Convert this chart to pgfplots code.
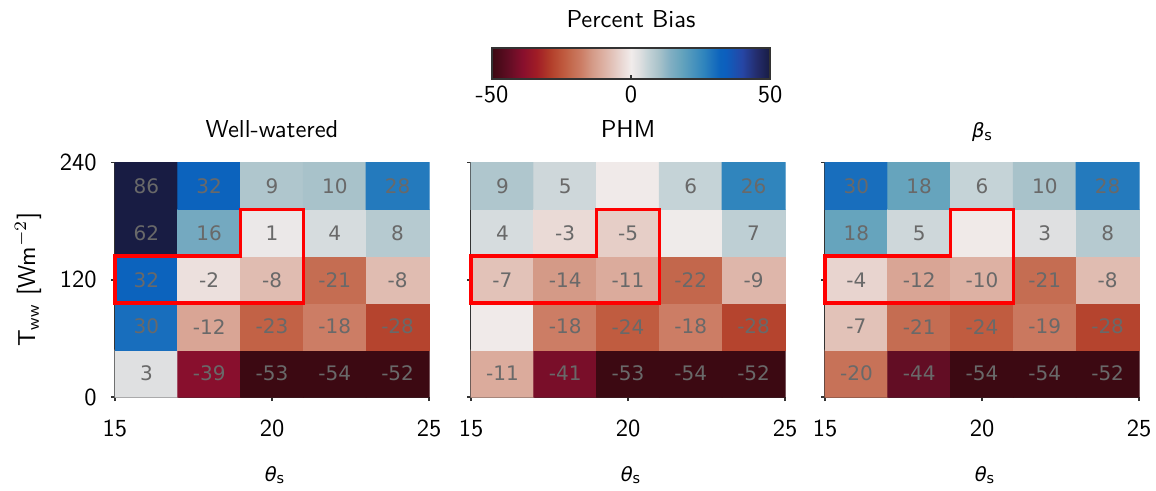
\documentclass[border=0pt]{standalone}
\usepackage{fontspec}
\usepackage{pgfplots}
\usepackage{pgfplotstable}
\pgfplotsset{compat=1.18}

\newfontfamily\cellfont{DejaVu Sans}
\newfontfamily\dvs{DejaVu Sans}
\newcommand\lmsf{\sffamily\fontsize{9.8}{11.8}\selectfont}
% oblique Greek symbol with an upright "s" subscript
\newcommand\symsub[1]{{\dvs\fontsize{7.8}{9}\selectfont\itshape #1}\raisebox{-1.1pt}{\dvs\fontsize{5.8}{6.5}\selectfont s}}
\definecolor{spine}{RGB}{51,51,51}
\definecolor{celltext}{RGB}{105,105,105}

% diverging map: -50 (dark red) ... 0 (off-white) ... +50 (navy)
\pgfplotsset{colormap={balr}{
  rgb255(0pt)=(60,9,18);
  rgb255(6pt)=(98,13,36);
  rgb255(11pt)=(136,15,45);
  rgb255(16pt)=(160,28,38);
  rgb255(21pt)=(178,62,42);
  rgb255(26pt)=(192,92,64);
  rgb255(29pt)=(197,109,82);
  rgb255(32pt)=(204,125,101);
  rgb255(36pt)=(212,154,135);
  rgb255(39pt)=(219,171,156);
  rgb255(42pt)=(224,188,177);
  rgb255(46pt)=(232,212,207);
  rgb255(50pt)=(241,236,235);
  rgb255(53pt)=(223,224,225);
  rgb255(56pt)=(197,211,215);
  rgb255(60pt)=(168,194,202);
  rgb255(64pt)=(130,175,195);
  rgb255(68pt)=(102,164,189);
  rgb255(76pt)=(48,133,189);
  rgb255(82pt)=(12,99,189);
  rgb255(84pt)=(12,95,190);
  rgb255(90pt)=(38,70,165);
  rgb255(95pt)=(36,45,110);
  rgb255(100pt)=(24,28,67);
}}

% percent bias per (theta_s, T_ww) cell; s = 1 when the value is printed
\pgfplotstableread{
x  y   c    s
16 24  3    1
18 24  -39  1
20 24  -53  1
22 24  -54  1
24 24  -52  1
16 72  30   1
18 72  -12  1
20 72  -23  1
22 72  -18  1
24 72  -28  1
16 120 32   1
18 120 -2   1
20 120 -8   1
22 120 -21  1
24 120 -8   1
16 168 62   1
18 168 16   1
20 168 1    1
22 168 4    1
24 168 8    1
16 216 86   1
18 216 32   1
20 216 9    1
22 216 10   1
24 216 28   1
}\wellwatered

\pgfplotstableread{
x  y   c    s
16 24  -11  1
18 24  -41  1
20 24  -53  1
22 24  -54  1
24 24  -52  1
16 72  -0.3 0
18 72  -18  1
20 72  -24  1
22 72  -18  1
24 72  -28  1
16 120 -7   1
18 120 -14  1
20 120 -11  1
22 120 -22  1
24 120 -9   1
16 168 4    1
18 168 -3   1
20 168 -5   1
22 168 0.3  0
24 168 7    1
16 216 9    1
18 216 5    1
20 216 -0.3 0
22 216 6    1
24 216 26   1
}\phm

\pgfplotstableread{
x  y   c    s
16 24  -20  1
18 24  -44  1
20 24  -54  1
22 24  -54  1
24 24  -52  1
16 72  -7   1
18 72  -21  1
20 72  -24  1
22 72  -19  1
24 72  -28  1
16 120 -4   1
18 120 -12  1
20 120 -10  1
22 120 -21  1
24 120 -8   1
16 168 18   1
18 168 5    1
20 168 -0.4 0
22 168 3    1
24 168 8    1
16 216 30   1
18 216 18   1
20 216 6    1
22 216 10   1
24 216 28   1
}\betas

\pgfplotsset{
  every axis title shift=0pt,
  hm/.style={
    scale only axis, width=125.6pt, height=93.8pt,
    anchor=south west,
    xmin=15, xmax=25, ymin=0, ymax=240,
    enlargelimits=false,
    axis lines=left,
    axis line style={-, draw=spine, line width=0.6pt},
    tick style={draw=spine, line width=0.6pt},
    tick align=outside, major tick length=1.6pt,
    xtick={15,20,25}, ytick={0,120,240},
    ticklabel style={font=\lmsf},
    /pgf/number format/assume math mode=true,
    xticklabel style={anchor=base, yshift=-14.2pt},
    yticklabel style={anchor=east, inner sep=0pt, xshift=-5.5pt},
    title style={font=\lmsf, anchor=base, at={(0.5,1)}, yshift=10pt},
    label style={font=\lmsf},
    xlabel={\symsub{θ}},
    xlabel style={at={(axis description cs:0.5,0)}, anchor=base, yshift=-33.6pt, xshift=1pt},
    point meta min=-50, point meta max=50,
    colormap name=balr,
    clip=false,
  },
}

\newcommand\panelplots[1]{%
  \addplot[matrix plot*, mesh/cols=5, point meta=explicit]
    table[x=x, y=y, meta=c] {#1};
  \addplot[only marks, mark=*, mark size=0pt, mark options={draw=none, fill=none},
    point meta=explicit symbolic,
    restrict expr to domain={\thisrow{s}}{0.5:1.5},
    nodes near coords, nodes near coords align=center,
    every node near coord/.append style={font=\cellfont\fontsize{8}{9.6}\selectfont, text=celltext}]
    table[x=x, y=y, meta=c] {#1};
  \addplot[red, line width=1.5pt, line join=miter, forget plot]
    coordinates {(15,96) (21,96) (21,192) (19,192) (19,144) (15,144)} -- cycle;
}

\begin{document}
\begin{tikzpicture}
\useasboundingbox (0,0) rectangle (462.4pt,196pt);

\begin{axis}[hm, at={(46pt,37.2pt)}, title={Well-watered},
  ylabel={T$_{\mathsf{ww}}$ [Wm$^{-2}$]},
  ylabel style={at={(axis description cs:0,0.5)}, anchor=center, rotate=0, yshift=34.8pt}]
\panelplots{\wellwatered}
\end{axis}

\begin{axis}[hm, at={(188.4pt,37.2pt)}, title={PHM}, yticklabels={},
  colorbar horizontal,
  colorbar style={
    at={(0.5096,1.3568)}, anchor=south,
    scale only axis, width=111.2pt, height=12.4pt,
    xtick={-50,0,50}, xtick pos=bottom,
    tick align=inside, major tick length=1.6pt,
    tick style={draw=spine, line width=0.6pt},
    axis line style={draw=spine, line width=0.6pt},
    ticklabel style={font=\lmsf},
    /pgf/number format/assume math mode=true,
    xticklabel style={anchor=base, yshift=-9.6pt},
    every axis title shift=0pt,
    title={Percent Bias},
    title style={font=\lmsf, anchor=base, at={(0.5,1)}, yshift=8.3pt},
  }]
\panelplots{\phm}
\end{axis}

\begin{axis}[hm, at={(330pt,37.2pt)}, title={\symsub{β}}, yticklabels={}]
\panelplots{\betas}
\end{axis}
\end{tikzpicture}
\end{document}
